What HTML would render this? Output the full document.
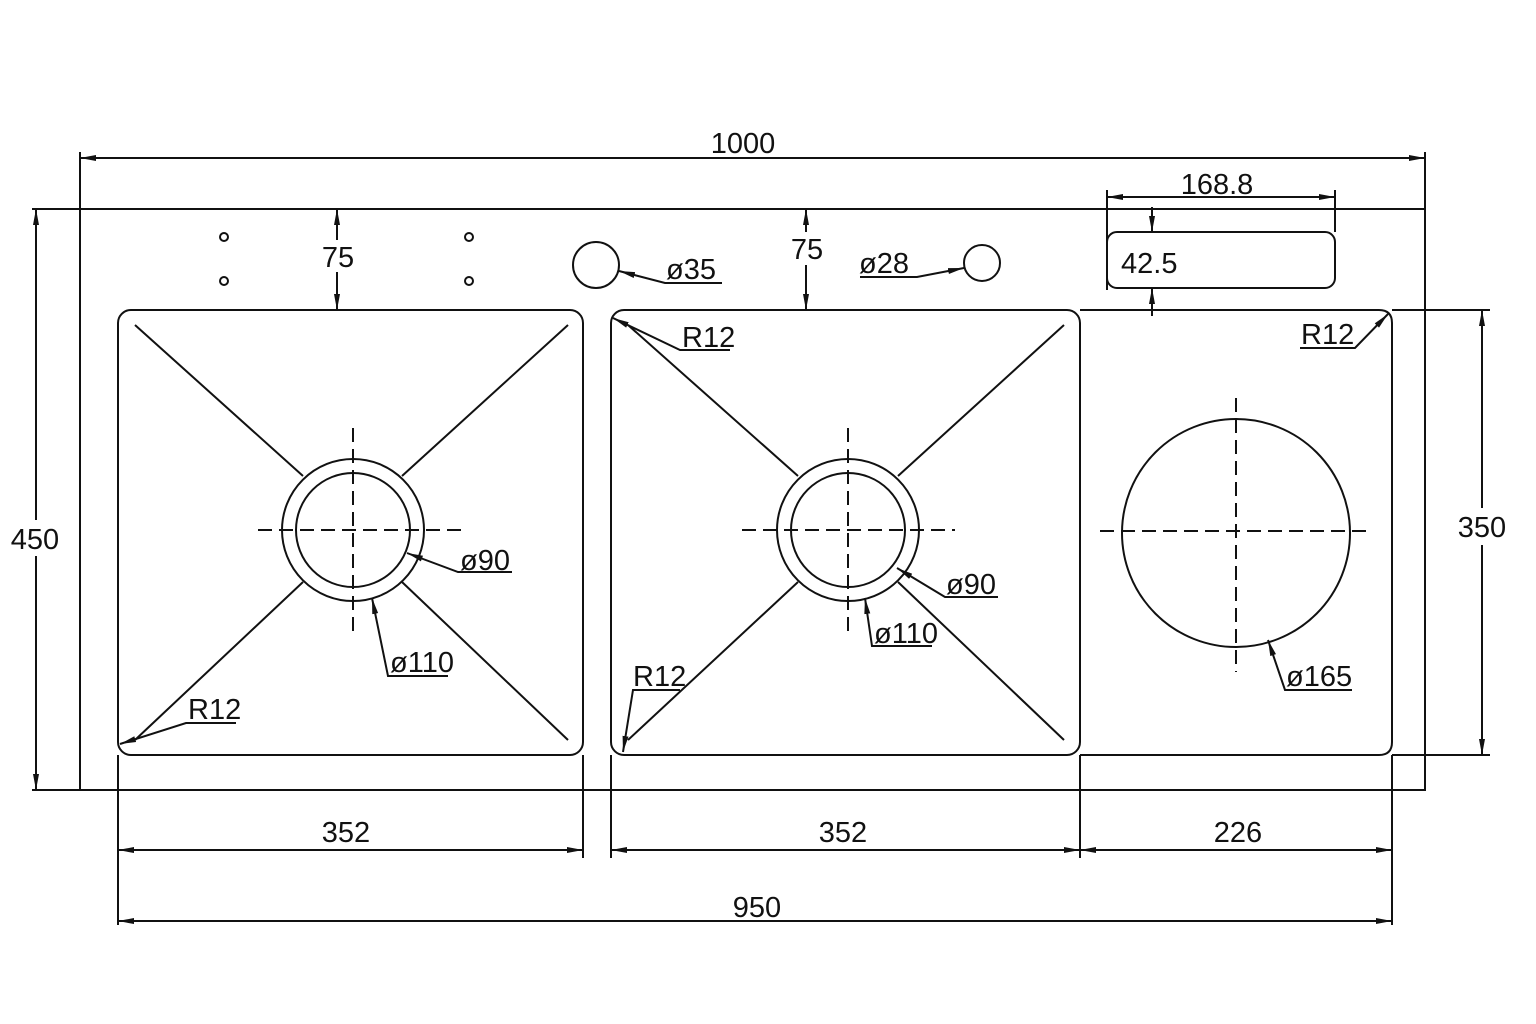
<!DOCTYPE html>
<html><head><meta charset="utf-8"><style>
html,body{margin:0;padding:0;background:#fff}
svg{display:block}
text{font-family:"Liberation Sans","DejaVu Sans",sans-serif;font-size:29px;fill:#111}
</style></head><body>
<svg width="1536" height="1024" viewBox="0 0 1536 1024" xmlns="http://www.w3.org/2000/svg">
<defs>
<marker id="a" viewBox="0 0 16 8" refX="16" refY="4" markerWidth="16" markerHeight="8" orient="auto-start-reverse" markerUnits="userSpaceOnUse"><path d="M0,1 L16,4 L0,7 z" fill="#111"/></marker>
</defs>
<g stroke="#111" stroke-width="2" fill="none">
<rect x="80" y="209" width="1345" height="581"/>
<line x1="32" y1="209" x2="80" y2="209"/>
<line x1="32" y1="790" x2="80" y2="790"/>
<line x1="80" y1="152" x2="80" y2="209"/>
<line x1="1425" y1="152" x2="1425" y2="209"/>
<line x1="80" y1="158" x2="1425" y2="158" marker-start="url(#a)" marker-end="url(#a)"/>
<line x1="36" y1="209" x2="36" y2="520" marker-start="url(#a)"/>
<line x1="36" y1="556" x2="36" y2="790" marker-end="url(#a)"/>
<line x1="1392" y1="310" x2="1490" y2="310"/>
<line x1="1392" y1="755" x2="1490" y2="755"/>
<line x1="1482" y1="310" x2="1482" y2="508" marker-start="url(#a)"/>
<line x1="1482" y1="545" x2="1482" y2="755" marker-end="url(#a)"/>
<rect x="118" y="310" width="465" height="445" rx="13"/>
<line x1="135" y1="325" x2="303" y2="476"/><line x1="568" y1="325" x2="402" y2="476"/>
<line x1="135" y1="740" x2="303" y2="582"/><line x1="568" y1="740" x2="402" y2="582"/>
<circle cx="353" cy="530" r="71"/><circle cx="353" cy="530" r="57"/>
<g stroke-dasharray="14,7"><line x1="258" y1="530" x2="462" y2="530"/><line x1="353" y1="428" x2="353" y2="632"/></g>
<rect x="611" y="310" width="469" height="445" rx="13"/>
<line x1="628" y1="325" x2="798" y2="476"/><line x1="1064" y1="325" x2="898" y2="476"/>
<line x1="628" y1="740" x2="798" y2="582"/><line x1="1064" y1="740" x2="898" y2="582"/>
<circle cx="848" cy="530" r="71"/><circle cx="848" cy="530" r="57"/>
<g stroke-dasharray="14,7"><line x1="742" y1="530" x2="955" y2="530"/><line x1="848" y1="428" x2="848" y2="632"/></g>
<path d="M1080,310 L1379,310 Q1392,310 1392,323 L1392,742 Q1392,755 1379,755 L1080,755"/>
<circle cx="1236" cy="533" r="114"/>
<g stroke-dasharray="14,7"><line x1="1100" y1="531" x2="1370" y2="531"/><line x1="1236" y1="398" x2="1236" y2="672"/></g>
<line x1="337" y1="209" x2="337" y2="240" marker-start="url(#a)"/>
<line x1="337" y1="272" x2="337" y2="310" marker-end="url(#a)"/>
<line x1="806" y1="209" x2="806" y2="232" marker-start="url(#a)"/>
<line x1="806" y1="265" x2="806" y2="310" marker-end="url(#a)"/>
<circle cx="224" cy="237" r="4"/><circle cx="224" cy="281" r="4"/>
<circle cx="469" cy="237" r="4"/><circle cx="469" cy="281" r="4"/>
<circle cx="596" cy="265" r="23"/>
<polyline points="722,283 665,283 619,271" marker-end="url(#a)"/>
<circle cx="982" cy="263" r="18"/>
<polyline points="860,277 917,277 964,268" marker-end="url(#a)"/>
<rect x="1107" y="232" width="228" height="56" rx="10"/>
<line x1="1107" y1="190" x2="1107" y2="290"/><line x1="1335" y1="190" x2="1335" y2="232"/>
<line x1="1107" y1="197" x2="1335" y2="197" marker-start="url(#a)" marker-end="url(#a)"/>
<line x1="1152" y1="207" x2="1152" y2="232" marker-end="url(#a)"/>
<line x1="1152" y1="316" x2="1152" y2="288" marker-end="url(#a)"/>
<polyline points="730,350 680,350 613,318" marker-end="url(#a)"/>
<polyline points="1300,348 1355,348 1388,314" marker-end="url(#a)"/>
<polyline points="236,723 186,723 120,744" marker-end="url(#a)"/>
<polyline points="680,690 633,690 623,752" marker-end="url(#a)"/>
<polyline points="512,572 458,572 407,553" marker-end="url(#a)"/>
<polyline points="448,676 388,676 372,598" marker-end="url(#a)"/>
<polyline points="998,597 945,597 897,568" marker-end="url(#a)"/>
<polyline points="932,646 872,646 865,598" marker-end="url(#a)"/>
<polyline points="1352,690 1285,690 1268,640" marker-end="url(#a)"/>
<line x1="118" y1="755" x2="118" y2="925"/><line x1="583" y1="755" x2="583" y2="858"/>
<line x1="611" y1="755" x2="611" y2="858"/><line x1="1080" y1="755" x2="1080" y2="858"/>
<line x1="1392" y1="755" x2="1392" y2="925"/>
<line x1="118" y1="850" x2="583" y2="850" marker-start="url(#a)" marker-end="url(#a)"/>
<line x1="611" y1="850" x2="1080" y2="850" marker-start="url(#a)" marker-end="url(#a)"/>
<line x1="1080" y1="850" x2="1392" y2="850" marker-start="url(#a)" marker-end="url(#a)"/>
<line x1="118" y1="921" x2="1392" y2="921" marker-start="url(#a)" marker-end="url(#a)"/>
</g>
<g text-anchor="middle">
<text x="743" y="153">1000</text>
<text x="35" y="549">450</text>
<text x="1482" y="537">350</text>
<text x="338" y="267">75</text>
<text x="807" y="259">75</text>
<text x="1217" y="194">168.8</text>
<text x="346" y="842">352</text>
<text x="843" y="842">352</text>
<text x="1238" y="842">226</text>
<text x="757" y="917">950</text>
</g>
<g>
<text x="666" y="279">ø35</text>
<text x="859" y="273">ø28</text>
<text x="1121" y="273">42.5</text>
<text x="682" y="347">R12</text>
<text x="1301" y="344">R12</text>
<text x="188" y="719">R12</text>
<text x="633" y="686">R12</text>
<text x="460" y="570">ø90</text>
<text x="390" y="672">ø110</text>
<text x="946" y="594">ø90</text>
<text x="874" y="643">ø110</text>
<text x="1286" y="686">ø165</text>
</g>
</svg>
</body></html>
